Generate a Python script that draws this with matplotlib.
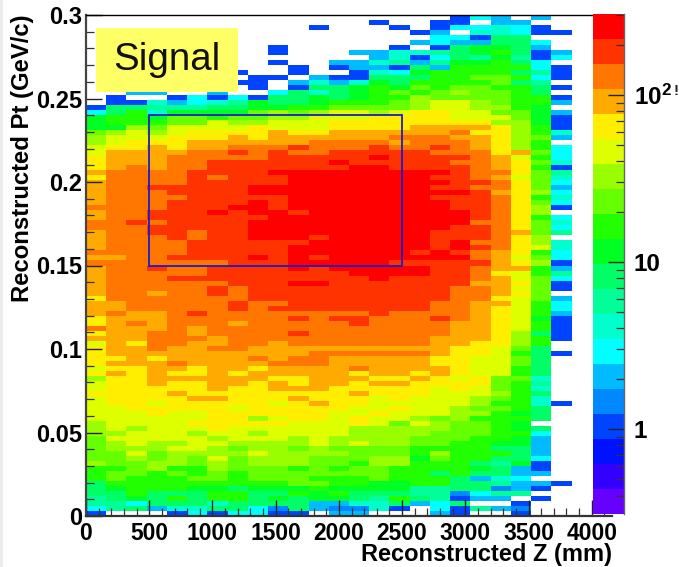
import numpy as np
import matplotlib
matplotlib.use('Agg')
import matplotlib.pyplot as plt
import matplotlib.patches as mpatches
import matplotlib.ticker as mticker
from matplotlib.colors import ListedColormap, LogNorm

plt.rcParams['font.family'] = ['Liberation Sans', 'DejaVu Sans']
plt.rcParams['font.weight'] = 'bold'
plt.rcParams['mathtext.fontset'] = 'custom'
plt.rcParams['mathtext.bf'] = 'Liberation Sans:bold'

# Bin colour level, one string per row from Pt = 0.3 down.
# 0-9 then a-j are the 20 palette bands (low to high), '.' is an empty bin.
level_rows = [
    "..................365.5...",
    "..............3..33.55....",
    "...........3...3.366763...",
    "................35.77633..",
    ".................66399....",
    "................5655996...",
    ".........3.....3.39aa95...",
    ".........3...557789ab935..",
    "..............573698a836..",
    ".........3..557858aab96...",
    "..........3.355395bbbb63..",
    ".......3..3..376abbbb983..",
    "........33.533999bbccb63..",
    ".......33.5757a9bbbbc98...",
    "........3.399abacbccbb93..",
    "..55..5..6979abcbcdccb9...",
    ".3..3636399a9abbdccccbb3..",
    ".3375678a99abbbcdeedcbb5..",
    "39988899aabbccccdeeddba...",
    "69b7aaaacdcdeedeffeecca5..",
    "abbaccbccddeeeffffeeeca3..",
    "abbbcceddeeeffffffffdda3..",
    "aadceeeefeeeffffggggfdb3..",
    "cdedeffffgffgggggghffdb7..",
    "deeefffgfgggggghhhggfdc5..",
    "defffgggggghhhhghhhgfdb...",
    "effgfgghhhihhhihhihgfdb6..",
    "egggghhihihhiiiiihhhfgc6..",
    "fggghhhhhiiiiijiiiihgeb6..",
    "fggghhiiiiiijiiiiihhgfc7..",
    "fghghhiiiiiiijjiiiihgfb3..",
    "ghhhhiiiijjjjjjjjjihhfc8..",
    "fhhhhihiiijjjjjjjiihgec7..",
    "ghhhhiiiiijjjjjjjjiihfc6..",
    "ghhiiiiijjjjjjjjjiihhfc5..",
    "ghhhiiiijjjjjjjjjjjigfd6..",
    "ghhhhiiiiijjjjjjjiiihfb7..",
    "ghhhiiiijijjjjjjjjiihfc6..",
    "hhhhiiijjijjjjjjjjiihfd3..",
    "ghhiiijijjijjjjjjjjihfd...",
    "ghhiiiiiijjjjjjjjjjihfb6..",
    "hhihiiiijjjjjjjjjjjhhfc7..",
    "hhhiiiiijjjjjjjjjjiihfc6..",
    "ghhiihiijjjjjjjjjiiihgc8..",
    "ghhhihiijjjijjjjjiiihfd...",
    "ghhhhiiiiiijjjjjjijhhfd7..",
    "ghhhhiiiiijjjjjjjijihfe7..",
    "hhhhhiiiiijjjjjjijihgfb6..",
    "gghhiiiijijijjjjjjjhgec6..",
    "hhhhhhhiiijjjjjiiiiigfd3..",
    "ghhihhiiiijijjjjjiihggb5..",
    "ghhhhhiiiiiiijjjjiihfeb8..",
    "ghhhiiiiiiiiiijiiiihgec6..",
    "ghhhhhhiiijjiiiiiiiggfc3..",
    "ghhhhhihiiiiiiiiiihhgec3..",
    "ghhghhihiiiiiiiiiihhgfc...",
    "fhhhhhhhiiiiiiiiiihhfec5..",
    "gghhhhhihhiiiiiiihhggeb6..",
    "gghhhhhihiiiiiiiihhgfeb6..",
    "ghgghihhhhhhhhihhhhgfeb5..",
    "fggghhhhhhihiihhhihgfea3..",
    "fghghhhghhhhhihhhhggfeb3..",
    "hggghghhhhhhhhhhhhggfeb3..",
    "fgghhghhhhihhhhhhhggfd93..",
    "ggghhhghhhhhhhhhhgggfdb3..",
    "egfhhgghhghhhhhhhggffdb...",
    "fgghgghhggggggggggffec9...",
    "fgggggggggghhhhhhgffeb93..",
    "ffgfgggghghhgggggffeec9...",
    "fggghgggghhhgggggffeec9...",
    "effggfggfgggghggggfeeb9...",
    "fgfgffgfgggggfggfgfeeb9...",
    "dffggggggffgggffgfefcc7...",
    "effgffggfgfggfggffffcb8...",
    "efffffgffgggfffffefecb7...",
    "ffffgffffffffgfffeeedb9...",
    "effffggfffgfffefeeedcb7...",
    "effefffffefgffeeeeedbb73..",
    "eefffffefffffeefeedccb9...",
    "eeefeeffffffeefeeeddba9...",
    "eeeeeeffdeffefeedcdbbb9...",
    "deeeefffffeeefecedccba....",
    "dedeeefeeeeeedddddccba9...",
    "ddeeedeedeeeeddddcccbb6...",
    "ceeeeedeeededdddcccbba5...",
    "cdeddeeddddededdccbbaa5...",
    "cdddeedcddcdccccbbbb995...",
    "ccecddddeddddcccbdbbb95...",
    "ccdcdcecdddcccddacbb996...",
    "dccddcdcdddccbddbbb98a3...",
    "bbcdbbdcccbcbccbbbba953...",
    "bccbcbcbcccccccbb9b9955...",
    "bcbbbccbcccbbbcbbb9576....",
    "9bbbbbbbbbccbbaabb998553..",
    "9abbbaa9aaabaaaa8899453...",
    "99b999bb99bab999884688....",
    "89a9b9bb9a9aa98b98355.3...",
    "8869997999955779569..3....",
    "6895779964954473.63854....",
    "3...3636633.55...53..3....",
]

palette = ['#6600ff', '#3300ff', '#0011ff', '#0044ff', '#0088ff',
           '#00bbff', '#00ffff', '#00ffcc', '#00ff99', '#00ff66',
           '#00ff22', '#22ff00', '#66ff00', '#99ff00', '#ddff00',
           '#ffee00', '#ffaa00', '#ff7700', '#ff3300', '#ff0000']

z_min = 0.31
z_max = 305.0
x_max = 4160
y_max = 0.3

codes = '0123456789abcdefghij'
levels = np.full((len(level_rows), 26), np.nan)
for i, row in enumerate(level_rows):
    for j, c in enumerate(row.ljust(26, '.')[:26]):
        if c != '.':
            levels[i, j] = codes.index(c)
# rows were typed from the top down
levels = levels[::-1]
counts = z_min * (z_max / z_min) ** ((levels + 0.5) / 20)

fig = plt.figure(figsize=(6.79, 5.67), dpi=100)
W, H = 679.0, 567.0
ax = fig.add_axes([86 / W, (H - 516) / H, 526 / W, 501 / H])
cax = fig.add_axes([592.7 / W, (H - 514) / H, 31.3 / W, 500 / H], zorder=5)

# grey strip at the left edge of the page
fig.patches.append(mpatches.Rectangle((0, 0), 3 / W, 1, transform=fig.transFigure,
                                      fc='#e9ebee', ec='none', zorder=0))

x_edges = np.linspace(0, x_max, 27)
y_edges = np.linspace(0, y_max, len(level_rows) + 1)
cmap = ListedColormap(palette)
mesh = ax.pcolormesh(x_edges, y_edges, np.ma.masked_invalid(counts), cmap=cmap,
                     norm=LogNorm(z_min, z_max), rasterized=True)

ax.set_xlim(0, x_max)
ax.set_ylim(0, y_max)
ax.xaxis.set_major_locator(mticker.FixedLocator(np.arange(0, 4001, 500)))
ax.xaxis.set_minor_locator(mticker.FixedLocator(np.arange(0, 4101, 100)))
ax.yaxis.set_major_locator(mticker.FixedLocator(np.arange(0, 0.301, 0.05)))
ax.yaxis.set_minor_locator(mticker.FixedLocator(np.arange(0, 0.301, 0.01)))
ax.set_xticklabels(['0', '500', '1000', '1500', '2000', '2500', '3000', '3500', '4000'])
ax.set_yticklabels(['0', '0.05', '0.1', '0.15', '0.2', '0.25', '0.3'])
ax.tick_params(which='major', direction='in', length=11.5, width=1.0, color='#222222')
ax.tick_params(which='minor', direction='in', length=5.8, width=0.9, color='#333333')
ax.tick_params(axis='x', which='major', pad=4, labelsize=16.5)
ax.tick_params(axis='y', which='major', pad=3, labelsize=17)
ax.spines['right'].set_visible(False)
ax.spines['top'].set_linewidth(1.0)
ax.spines['top'].set_color('black')
ax.spines['left'].set_linewidth(1.6)
ax.spines['left'].set_color('#444444')
ax.spines['bottom'].set_linewidth(1.6)
ax.spines['bottom'].set_color('#333333')

fig.text(612 / W, (H - 555) / H, 'Reconstructed Z (mm)', ha='right', va='center', fontsize=17)
fig.text(23 / W, (H - 158) / H, 'Reconstructed Pt (GeV/c)', rotation=90, ha='center',
         va='center', fontsize=17.2)

# cut window
ax.add_patch(mpatches.Rectangle((500, 0.15), 2000, 0.09, fill=False, ec='#1a1ad0', lw=1.3, zorder=4))

# label box
fig.patches.append(mpatches.Rectangle((96 / W, (H - 91.7) / H), 141.7 / W, 64 / H,
                                      transform=fig.transFigure, fc='#ffff66', ec='none', zorder=6))
fig.text(167 / W, (H - 60) / H, 'Signal', ha='center', va='center', fontsize=27.7,
         fontweight='normal', color='#111111', zorder=7)

cb = fig.colorbar(mesh, cax=cax)
cb.outline.set_visible(False)
cax.yaxis.set_major_locator(mticker.FixedLocator([1, 10, 100]))
cax.yaxis.set_minor_locator(mticker.FixedLocator(
    [0.4, 0.5, 0.6, 0.7, 0.8, 0.9, 2, 3, 4, 5, 6, 7, 8, 9,
     20, 30, 40, 50, 60, 70, 80, 90, 200, 300]))
cax.yaxis.set_minor_formatter(mticker.NullFormatter())
cax.set_yticklabels(['1', '10', r'$\mathbf{10^{2}}$'])
cax.tick_params(which='major', direction='in', length=11.5, width=1.0, color='#222222',
                labelsize=17.5, pad=7)
cax.tick_params(which='minor', direction='in', length=5.8, width=0.9, color='#333333')
cax.spines['right'].set_visible(True)
cax.spines['right'].set_linewidth(1.0)
cax.spines['right'].set_color('#666666')

# clipped scrap of a digit at the right edge, next to the 10^2 label
fig.text(676 / W, (H - 91) / H, '!', ha='center', va='center', fontsize=11, color='#222222')

plt.savefig('out.png', dpi=100)
